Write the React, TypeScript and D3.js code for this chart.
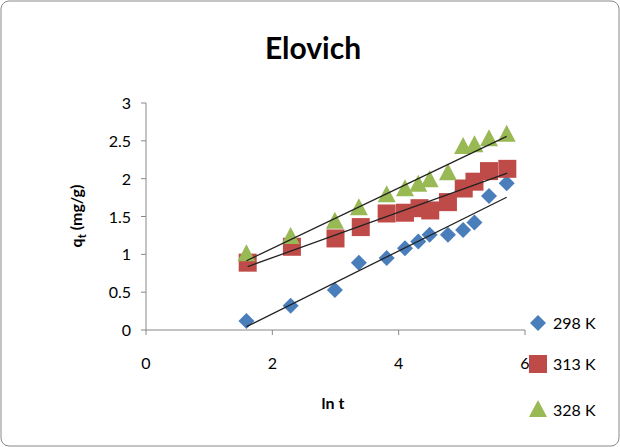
import React from "react";
import * as d3 from "d3";

const lnT = [1.59, 2.29, 2.99, 3.37, 3.81, 4.1, 4.31, 4.49, 4.78, 5.02, 5.2, 5.43, 5.71];
const q298 = [0.12, 0.32, 0.53, 0.89, 0.95, 1.08, 1.17, 1.26, 1.26, 1.32, 1.42, 1.77, 1.94];
const lnT313 = [1.61, 2.31, 3.0, 3.4, 3.81, 4.1, 4.33, 4.5, 4.78, 5.03, 5.2, 5.43, 5.72];
const q313 = [0.89, 1.1, 1.21, 1.36, 1.54, 1.55, 1.61, 1.58, 1.69, 1.87, 1.96, 2.1, 2.13];
const lnT328 = [1.59, 2.29, 2.99, 3.37, 3.81, 4.1, 4.31, 4.49, 4.78, 5.02, 5.2, 5.43, 5.71];
const q328 = [1.0, 1.23, 1.43, 1.61, 1.78, 1.86, 1.92, 1.98, 2.07, 2.42, 2.44, 2.52, 2.58];
const seriesNames = ["298 K", "313 K", "328 K"];
const colors = ["#4a7ebb", "#be4b48", "#98b954"];
const xTicks = [0, 2, 4, 6];
const yTicks = [0, 0.5, 1, 1.5, 2, 2.5, 3];

function fit(xs: number[], ys: number[]) {
  const mx = d3.mean(xs)!, my = d3.mean(ys)!;
  let n = 0, d = 0;
  xs.forEach((x, i) => { n += (x - mx) * (ys[i] - my); d += (x - mx) ** 2; });
  const b = n / d;
  return { b, a: my - b * mx };
}

export default function App() {
  const x = d3.scaleLinear().domain([0, 6]).range([146, 525]);
  const y = d3.scaleLinear().domain([0, 3]).range([330, 103]);
  const data = [
    { xs: lnT, ys: q298 },
    { xs: lnT313, ys: q313 },
    { xs: lnT328, ys: q328 },
  ];
  const font = "Lato, 'Open Sans', sans-serif";
  const marker = (k: number, cx: number, cy: number, key: any) => {
    const c = colors[k];
    if (k === 0) return <path key={key} d={`M${cx},${cy - 8}L${cx + 8},${cy}L${cx},${cy + 8}L${cx - 8},${cy}Z`} fill={c} />;
    if (k === 1) return <rect key={key} x={cx - 9} y={cy - 9} width={18} height={18} fill={c} />;
    return <path key={key} d={`M${cx},${cy - 10}L${cx + 9},${cy + 7}L${cx - 9},${cy + 7}Z`} fill={c} />;
  };
  return (
    <svg width={620} height={447} style={{ position: "absolute", left: 0, top: 0 }} fontFamily={font}>
      <rect x={1} y={1} width={618} height={445} rx={8} fill="#fff" stroke="#888" />
      <text x={313} y={59} textAnchor="middle" fontSize={30} fontWeight="bold">Elovich</text>
      <line x1={146} x2={146} y1={103} y2={330} stroke="#888" />
      <line x1={146} x2={525} y1={330} y2={330} stroke="#888" />
      {yTicks.map(t => (
        <g key={t}>
          <line x1={141} x2={146} y1={y(t)} y2={y(t)} stroke="#888" />
          <text x={131} y={y(t) + 6} textAnchor="end" fontSize={16}>{t}</text>
        </g>
      ))}
      {xTicks.map(t => (
        <g key={t}>
          <line x1={x(t)} x2={x(t)} y1={330} y2={335} stroke="#888" />
          <text x={x(t)} y={369} textAnchor="middle" fontSize={16}>{t}</text>
        </g>
      ))}
      <text x={333} y={409} textAnchor="middle" fontSize={16} fontWeight="bold">ln t</text>
      <text transform="translate(82,216) rotate(-90)" textAnchor="middle" fontSize={16} fontWeight="bold">
        q<tspan fontSize={11} dy={4}>t</tspan><tspan dy={-4}> (mg/g)</tspan>
      </text>
      {data.map((s, k) => s.xs.map((xv, i) => marker(k, x(xv), y(s.ys[i]), `${k}-${i}`)))}
      {data.map((s, k) => {
        const { a, b } = fit(s.xs, s.ys);
        const x0 = s.xs[0], x1 = s.xs[s.xs.length - 1];
        return <line key={k} x1={x(x0)} y1={y(a + b * x0)} x2={x(x1)} y2={y(a + b * x1)} stroke="#222" strokeWidth={1.3} />;
      })}
      {seriesNames.map((n, k) => {
        const ly = [323, 364, 410][k];
        return (
          <g key={n}>
            {marker(k, 538, ly, "l" + k)}
            <text x={553} y={ly + 6} fontSize={16}>{n}</text>
          </g>
        );
      })}
    </svg>
  );
}
